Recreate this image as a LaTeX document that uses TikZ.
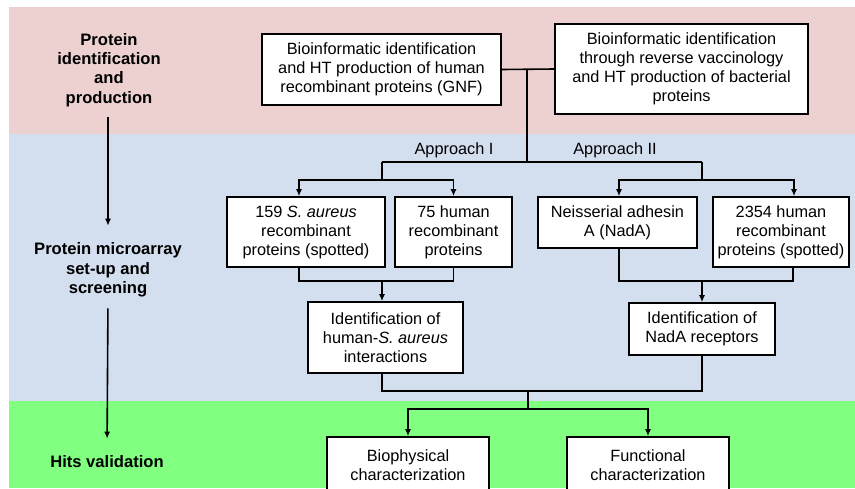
\documentclass[tikz,border=0pt]{standalone}
\usepackage{fontspec}
\setmainfont{Liberation Sans}
\usetikzlibrary{arrows.meta,calc,positioning}
\definecolor{pinkband}{RGB}{237,209,209}
\definecolor{blueband}{RGB}{211,222,238}
\definecolor{greenband}{RGB}{128,255,128}

\begin{document}
\begin{tikzpicture}[x=1pt,y=-1pt,
    every node/.style={font=\fontsize{16.3}{19}\selectfont},
    stagelabel/.style={font=\fontsize{16.6}{19.3}\selectfont\bfseries,align=center,inner sep=0pt},
    box/.style={draw,line width=1.6pt,fill=white,align=center,inner sep=2pt},
    link/.style={line width=1.6pt},
    arr/.style={line width=1.6pt,-{Latex[length=7pt,width=6pt]}}]
        \useasboundingbox (0,0) rectangle (855,488);
        \clip (0,0) rectangle (855,488);
        %Shade
        \fill[pinkband] (9,7) rectangle (855,134);
        \fill[blueband] (9,134) rectangle (855,401);
        \fill[greenband] (9,401) rectangle (855,488);
        %Stages
        \node[stagelabel] (stage1) at (109,70) {Protein\\identification\\and\\production};
        \node[stagelabel] (stage2) at (108,270) {Protein microarray\\set-up and\\screening};
        \node[stagelabel] (stage3) at (107,462) {Hits validation};
        \draw[arr,shorten <=10pt,shorten >=17pt] (stage1.south -| stage2.north) -- (stage2.north);
        \draw[arr,shorten <=11pt,shorten >=17pt] (stage2.south) -- (stage3.north);
        %Boxes
        \node[box,minimum width=239pt,minimum height=71pt] (gnf) at (381.5,69.5)
            {Bioinformatic identification\\and HT production of human\\recombinant proteins (GNF)};
        \node[box,minimum width=253pt,minimum height=90pt] (bact) at (681.5,69)
            {Bioinformatic identification\\through reverse vaccinology\\and HT production of bacterial\\proteins};
        \node[box,minimum width=158pt,minimum height=70pt] (saureus) at (306,232)
            {159 \textit{S. aureus}\\recombinant\\proteins (spotted)};
        \node[box,minimum width=117pt,minimum height=70pt] (human75) at (453.5,232)
            {75 human\\recombinant\\proteins};
        \node[box,minimum width=159pt,minimum height=51pt] (nada) at (617.5,222.5)
            {Neisserial adhesin\\A (NadA)};
        \node[box,minimum width=136pt,minimum height=70pt] (human2354) at (781,232)
            {2354 human\\recombinant\\proteins (spotted)};
        \node[box,minimum width=155pt,minimum height=71pt] (interact) at (385.5,337.5)
            {Identification of\\human-\textit{S. aureus}\\interactions};
        \node[box,minimum width=146pt,minimum height=52pt] (receptors) at (702,329)
            {Identification of\\NadA receptors};
        \node[box,minimum width=162pt,minimum height=56pt] (biophys) at (408,465)
            {Biophysical\\characterization};
        \node[box,minimum width=162pt,minimum height=56pt] (funct) at (648,465)
            {Functional\\characterization};
        \node (appI) at (454,150) {Approach I};
        \node (appII) at (615,150) {Approach II};
        %Junctions
        \coordinate (jtop) at (527,70);
        \coordinate (jbar) at (527,162);
        \coordinate (barL) at (382,162);
        \coordinate (barR) at (702,162);
        \coordinate (forkL) at (382,180);
        \coordinate (forkR) at (702,180);
        \coordinate (mergeL) at (382,281);
        \coordinate (mergeR) at (702,281);
        \coordinate (mergeB) at (528,391);
        \coordinate (forkB) at (528,409);
        %Connectors
        \draw[link] (gnf.east) -- (bact.west);
        \draw[link] (jtop) -- (jbar);
        \draw[link] (barL) -- (barR);
        \draw[link] (barL) -- (forkL);
        \draw[link] (barR) -- (forkR);
        \draw[arr] (forkL) -| ([xshift=-7pt]saureus.north);
        \draw[arr] (forkL) -| (human75.north);
        \draw[arr] (forkR) -| ([xshift=1.5pt]nada.north);
        \draw[arr] (forkR) -| ([xshift=13pt]human2354.north);
        \draw[link] ([xshift=-7pt]saureus.south) |- (mergeL) -| (human75.south);
        \draw[link] ([xshift=1.5pt]nada.south) |- (mergeR) -| ([xshift=12pt]human2354.south);
        \draw[arr] (mergeL) -- (mergeL |- interact.north);
        \draw[arr] (mergeR) -- (receptors.north);
        \draw[link] (interact.south -| mergeL) |- (mergeB) -| (receptors.south);
        \draw[link] (mergeB) -- (forkB);
        \draw[arr] (forkB) -| (biophys.north);
        \draw[arr] (forkB) -| (funct.north);
      \end{tikzpicture}
\end{document}
